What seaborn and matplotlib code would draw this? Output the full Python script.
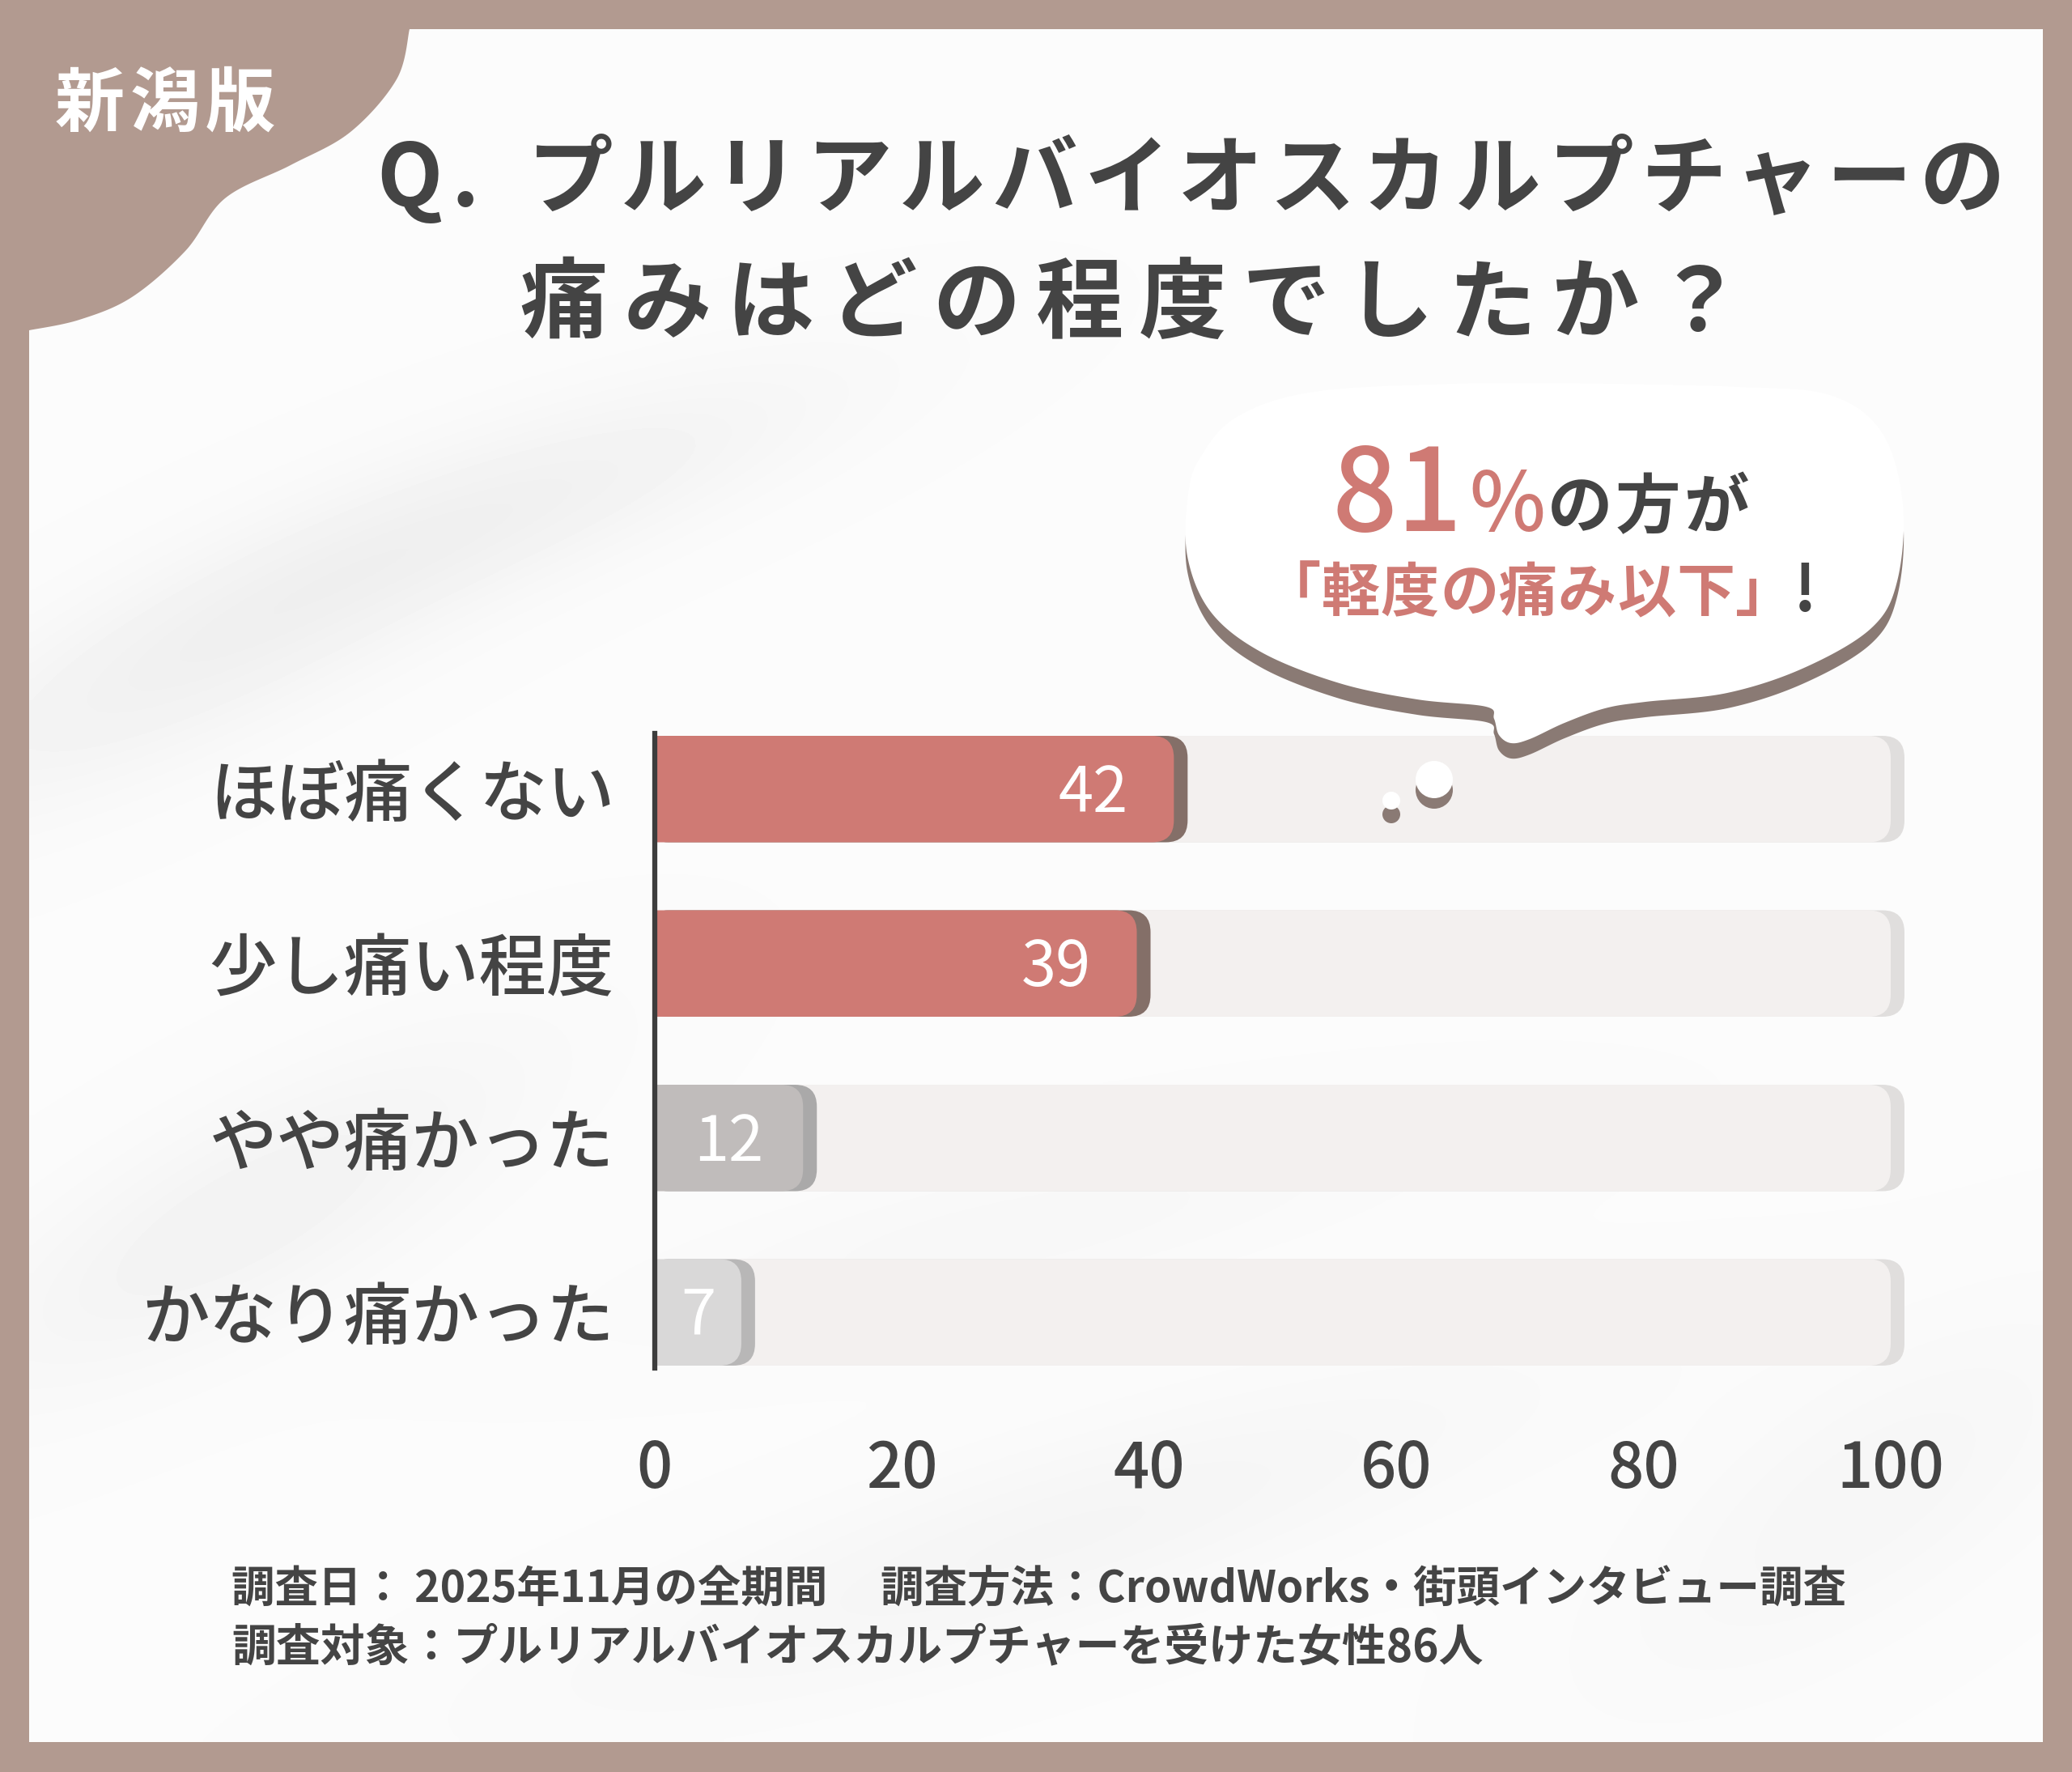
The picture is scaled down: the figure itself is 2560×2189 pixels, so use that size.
import numpy as np
import pandas as pd
import matplotlib
matplotlib.use("Agg")
import matplotlib.pyplot as plt
import matplotlib.transforms as mtransforms
from matplotlib.patches import FancyBboxPatch, PathPatch, Circle
from matplotlib.path import Path
import seaborn as sns

# ---------------- data ----------------
CATEGORIES = ["ほぼ痛くない", "少し痛い程度", "やや痛かった", "かなり痛かった"]
VALUES = [42, 39, 12, 7]
SCALE_MAX = [100, 100, 100, 100]
X_TICKS = [0, 20, 40, 60, 80, 100]

BADGE = "新潟版"
TITLE_Q = "Q."
TITLE_1 = "プルリアルバイオスカルプチャーの"
TITLE_2 = "痛みはどの程度でしたか？"
CALLOUT_PCT = "81"
CALLOUT_TAIL = "の方が"
CALLOUT_2 = "「軽度の痛み以下」"
FOOTER_1 = "調査日： 2025年11月の全期間　 調査方法：CrowdWorks・街頭インタビュー調査"
FOOTER_2 = "調査対象：プルリアルバイオスカルプチャーを受けた女性86人"

# ---------------- style ----------------
W, H = 2560, 2189
FRAME = "#b29a90"
INK = "#444444"
PINK = "#cf7a74"
BAR_FACE = ["#cf7a74", "#cf7a74", "#c0bcbb", "#d9d8d8"]
BAR_SHADOW = ["#846f68", "#846f68", "#aaa9a9", "#b8b7b7"]
TRACK_FACE = "#f3f0ef"
TRACK_SHADOW = "#e0dedd"
BUBBLE_SHADOW = "#8a7a74"
JP = ["Noto Sans CJK JP", "DejaVu Sans"]

sns.set_style("white")
plt.rcParams["font.family"] = JP


def catmull(points, closed=True, n=24):
    # smooth outline through a few hand-picked anchor points
    pts = np.asarray(points, float)
    if closed:
        pts = np.vstack([pts[-1], pts, pts[0], pts[1]])
    else:
        pts = np.vstack([pts[0], pts, pts[-1]])
    out = []
    t = np.linspace(0, 1, n, endpoint=False)[:, None]
    for i in range(1, len(pts) - 2):
        p0, p1, p2, p3 = pts[i - 1], pts[i], pts[i + 1], pts[i + 2]
        seg = 0.5 * (2 * p1 + (-p0 + p2) * t + (2 * p0 - 5 * p1 + 4 * p2 - p3) * t ** 2
                     + (-p0 + 3 * p1 - 3 * p2 + p3) * t ** 3)
        out.append(seg)
    if not closed:
        out.append(pts[-2][None, :])
    return np.vstack(out)


def spaced(axis, s, x_first, pitch, y, **kw):
    # letter-spaced text, one glyph at a time
    for i, ch in enumerate(s):
        axis.text(x_first + i * pitch, y, ch, ha="center", va="baseline", **kw)


fig = plt.figure(figsize=(W / 100, H / 100), dpi=100)
fig.patch.set_facecolor(FRAME)

# ---------------- background layer ----------------
bg = fig.add_axes([0, 0, 1, 1], zorder=0)
bg.axis("off")

px0, px1, py0, py1 = 36, 2524, 36, 2152
gy, gx = np.mgrid[py0:py1:8, px0:px1:8].astype(float)
field = np.full(gx.shape, 0.985)
for cx, cy, sx, sy, ang, amp in [
    (250, 800, 420, 110, -0.45, -0.04),
    (700, 600, 380, 90, -0.35, -0.03),
    (300, 1500, 380, 120, -0.5, -0.035),
    (1300, 1900, 600, 110, -0.3, -0.025),
    (2300, 1850, 350, 140, -0.6, -0.02),
    (1250, 1520, 500, 90, -0.2, -0.015),
]:
    u = (gx - cx) * np.cos(ang) + (gy - cy) * np.sin(ang)
    v = -(gx - cx) * np.sin(ang) + (gy - cy) * np.cos(ang)
    field += amp * np.exp(-(u / sx) ** 2 - (v / sy) ** 2)
bg.imshow(field, cmap="gray", vmin=0, vmax=1, extent=(px0, px1, py1, py0),
          interpolation="bilinear", aspect="auto", zorder=1)
bg.set_xlim(0, W)
bg.set_ylim(H, 0)

corner = catmull([(506, 36), (490, 98), (433, 163), (359, 204), (278, 245),
                  (229, 310), (163, 367), (98, 395), (36, 408)], closed=False)
corner = np.vstack([[0, 0], [506, 0], corner, [0, 408]])
bg.add_patch(PathPatch(Path(corner, closed=True), fc=FRAME, ec="none", zorder=2))

spaced(bg, BADGE, 111, 93, 155, fontsize=62, color="white", fontweight="bold", zorder=3)

bg.text(506, 255, TITLE_Q[0], ha="center", va="baseline", fontsize=76,
        color=INK, fontweight="bold", zorder=3)
bg.text(575, 255, TITLE_Q[1], ha="center", va="baseline", fontsize=76,
        color=INK, fontweight="bold", zorder=3)
spaced(bg, TITLE_1, 705, 114.6, 255, fontsize=76, color=INK, fontweight="bold", zorder=3)
spaced(bg, TITLE_2, 697, 127.4, 409, fontsize=78, color=INK, fontweight="bold", zorder=3)

bg.text(286, 1979, FOOTER_1, ha="left", va="baseline", fontsize=38.5,
        color=INK, fontweight="bold", zorder=3)
bg.text(286, 2051, FOOTER_2, ha="left", va="baseline", fontsize=39.5,
        color=INK, fontweight="bold", zorder=3)

# ---------------- chart ----------------
x0_px, unit_px, xmax = 809, 15.27, 101.6
top_px, bot_px = 867, 1729
ax = fig.add_axes([x0_px / W, 1 - bot_px / H, xmax * unit_px / W, (bot_px - top_px) / H],
                  zorder=1)
ax.patch.set_alpha(0)

df = pd.DataFrame({"category": CATEGORIES, "value": VALUES, "track": SCALE_MAX})

sns.barplot(data=df, x="track", y="category", color=TRACK_FACE, width=0.61,
            saturation=1, errorbar=None, ax=ax)
n_track = len(ax.patches)
sns.barplot(data=df, x="value", y="category", hue="category", palette=BAR_FACE,
            width=0.61, saturation=1, errorbar=None, legend=False, ax=ax)

ax.set_xlim(0, xmax)
ax.set_ylim(len(CATEGORIES) - 0.5, -0.5)

# swap seaborn's square bars for right-rounded ones with a drop edge
ppx = ax.transData.transform((1, 0))[0] - ax.transData.transform((0, 0))[0]
ppy = abs(ax.transData.transform((0, 1))[1] - ax.transData.transform((0, 0))[1])
aspect = ppx / ppy
radius = 27 / ppx
shift = mtransforms.ScaledTranslation(17 / 100, 0, fig.dpi_scale_trans)

for i, rect in enumerate(list(ax.patches)):
    x, y = rect.get_x(), rect.get_y()
    w, h = rect.get_width(), rect.get_height()
    face = rect.get_facecolor()
    is_track = i < n_track
    shadow = TRACK_SHADOW if is_track else BAR_SHADOW[i - n_track]
    z = 1 if is_track else 3
    rect.remove()
    for col, trans, zz in [(shadow, ax.transData + shift, z), (face, ax.transData, z + 0.5)]:
        ax.add_patch(FancyBboxPatch((x - radius, y), w + radius, h,
                                    boxstyle=f"round,pad=0,rounding_size={radius}",
                                    mutation_aspect=aspect, fc=col, ec="none",
                                    transform=trans, zorder=zz))

for i, v in enumerate(VALUES):
    ax.text(max(v - 6.5, v / 2), i + 0.03, str(v), ha="center", va="center",
            fontsize=56, color="white", zorder=5)

ax.set_xticks(X_TICKS)
ax.set_xticklabels([str(t) for t in X_TICKS])
ax.set_xlabel("")
ax.set_ylabel("")
ax.tick_params(axis="x", length=0, pad=34, labelsize=56, labelcolor=INK)
ax.tick_params(axis="y", length=0, pad=36, labelsize=60, labelcolor=INK)
for lab in ax.get_xticklabels() + ax.get_yticklabels():
    lab.set_fontweight("medium")
ax.grid(False)
sns.despine(ax=ax, left=False, bottom=True)
ax.spines["left"].set_bounds(-0.32, len(CATEGORIES) - 1 + 0.32)
ax.spines["left"].set_color("#3d3d3d")
ax.spines["left"].set_linewidth(4.5)
ax.spines["left"].set_zorder(6)

# ---------------- callout bubble ----------------
fg = fig.add_axes([0, 0, 1, 1], zorder=2)
fg.set_xlim(0, W)
fg.set_ylim(H, 0)
fg.axis("off")

bubble = catmull([(1623, 484), (1800, 474), (1980, 474), (2150, 478), (2261, 488),
                  (2325, 534), (2351, 622), (2344, 718), (2312, 776), (2229, 825),
                  (2134, 856), (2033, 867), (1983, 875), (1933, 893), (1890, 913),
                  (1867, 918), (1852, 908), (1846, 888), (1836, 873), (1751, 864),
                  (1655, 844), (1559, 806), (1496, 756), (1467, 687), (1468, 610),
                  (1483, 565), (1528, 515)])
fg.add_patch(PathPatch(Path(bubble + [0, 19], closed=True), fc=BUBBLE_SHADOW, ec="none", zorder=1))
fg.add_patch(PathPatch(Path(bubble, closed=True), fc="white", ec="none", zorder=2))
for cx, cy, r, dy in [(1772, 963, 23, 13), (1719, 989, 11, 17)]:
    fg.add_patch(Circle((cx, cy + dy), r, fc=BUBBLE_SHADOW, ec="none", zorder=1))
    fg.add_patch(Circle((cx, cy), r, fc="white", ec="none", zorder=2))

fg.text(1645, 656, CALLOUT_PCT, ha="left", va="baseline", fontsize=102,
        color=PINK, fontweight="medium", zorder=3)
fg.text(1815, 656, "%", ha="left", va="baseline", fontsize=72,
        color=PINK, fontweight="medium", zorder=3)
spaced(fg, CALLOUT_TAIL, 1952, 84, 652, fontsize=58, color=INK, fontweight="bold", zorder=3)
spaced(fg, CALLOUT_2, 1596, 73, 755, fontsize=52, color=PINK, fontweight="bold", zorder=3)
fg.text(2230, 755, "!", ha="center", va="baseline", fontsize=56,
        color=INK, fontweight="bold", zorder=3)

fig.savefig("out.png", dpi=100, facecolor=FRAME)
